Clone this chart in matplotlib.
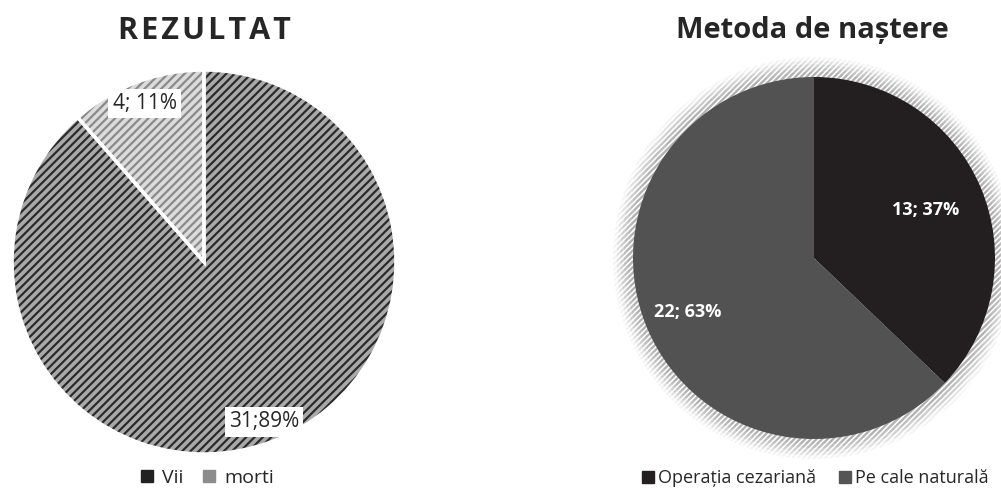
#!/usr/bin/env python3
# -*- coding: utf-8 -*-

"""
plot.py
Două diagrame circulare: rezultat (vii / morți) și metoda de naștere.
"""

import matplotlib
matplotlib.use("Agg")
import matplotlib.pyplot as plt
import numpy as np
from matplotlib.lines import Line2D
from matplotlib.patches import Circle

# Date
rezultat_labels = ["Vii", "morti"]
rezultat_values = [31, 4]
rezultat_pct = [89, 11]

metoda_labels = ["Operația cezariană", "Pe cale naturală"]
metoda_values = [13, 22]
metoda_pct = [37, 63]

plt.rcParams["font.family"] = ["Open Sans", "DejaVu Sans"]
plt.rcParams["hatch.linewidth"] = 1.6

W, H = 1001, 495
fig = plt.figure(figsize=(W / 100, H / 100), dpi=100)


def px_axes(cx, cy, r, pad=1.0):
    # axa pătrată centrată în (cx, cy) pixeli; raza 1 a plăcintei = r pixeli
    rb = r * pad
    ax = fig.add_axes([(cx - rb) / W, (H - cy - rb) / H, 2 * rb / W, 2 * rb / H])
    ax.set_xlim(-pad, pad)
    ax.set_ylim(-pad, pad)
    ax.set_aspect("equal")
    ax.axis("off")
    return ax


def place_labels(ax, wedges, texts, dists):
    for w, t, d in zip(wedges, texts, dists):
        ang = np.deg2rad((w.theta1 + w.theta2) / 2)
        t.set_position((d * np.cos(ang), d * np.sin(ang)))


# --- REZULTAT ---
ax1 = px_axes(204, 262, 192, pad=1.02)
w_hatch, _ = ax1.pie(
    rezultat_values, startangle=90, counterclock=False, radius=1,
    colors=["#a9a9a9", "#dcdcdc"],
    wedgeprops=dict(linewidth=0),
)
for w, hc in zip(w_hatch, ["#2b2b2b", "#8a8a8a"]):
    w.set_hatch("////")
    w.set_edgecolor(hc)
    w.set_linewidth(0)
w_edge, _ = ax1.pie(
    rezultat_values, startangle=90, counterclock=False, radius=1,
    colors=["none", "none"],
    wedgeprops=dict(edgecolor="white", linewidth=2.5),
)
ax1.set_xlim(-1.02, 1.02)
ax1.set_ylim(-1.02, 1.02)
labels1 = [f"{v}; {p}%" if v < 10 else f"{v};{p}%" for v, p in zip(rezultat_values, rezultat_pct)]
texts1 = [ax1.text(0, 0, s, ha="center", va="center", fontsize=15, color="#262626",
                   bbox=dict(facecolor="white", edgecolor="none", pad=3))
          for s in labels1]
place_labels(ax1, w_edge, texts1, [0.89, 0.88])

fig.text(204 / W, 1 - 31 / H, "\u200a".join("REZULTAT"), ha="center", va="center",
         fontsize=22, fontweight="bold", color="#262626")

leg1 = [Line2D([], [], marker="s", linestyle="none", markersize=8, color=c)
        for c in ["#222222", "#8c8c8c"]]
fig.legend(leg1, rezultat_labels, loc="center", bbox_to_anchor=(207 / W, 1 - 478 / H),
           ncol=2, frameon=False, fontsize=14, handlelength=0.7, handletextpad=0.4,
           columnspacing=1.0, labelcolor="#262626")

# --- Metoda de naștere ---
ax2 = px_axes(814, 258, 181, pad=1.13)
# umbra (glow) din jurul cercului
for r, a in zip([1.11, 1.09, 1.07, 1.05, 1.03], [0.1, 0.18, 0.28, 0.4, 0.55]):
    ax2.add_patch(Circle((0, 0), r, facecolor="white", edgecolor="#8a8a8a",
                         hatch="//////", linewidth=0, alpha=a, zorder=0))
w2, _ = ax2.pie(
    metoda_values, startangle=90, counterclock=False, radius=1,
    colors=["#231f20", "#525252"],
    wedgeprops=dict(linewidth=0),
)
ax2.set_xlim(-1.13, 1.13)
ax2.set_ylim(-1.13, 1.13)
labels2 = [f"{v}; {p}%" for v, p in zip(metoda_values, metoda_pct)]
texts2 = [ax2.text(0, 0, s, ha="center", va="center", fontsize=13, color="white",
                   fontweight="bold") for s in labels2]
place_labels(ax2, w2, texts2, [0.67, 0.76])

fig.text(812 / W, 1 - 31 / H, "Metoda de naștere", ha="center", va="center",
         fontsize=21, fontweight="bold", color="#262626")

leg2 = [Line2D([], [], marker="s", linestyle="none", markersize=9, color=c)
        for c in ["#231f20", "#555555"]]
fig.legend(leg2, metoda_labels, loc="center", bbox_to_anchor=(816 / W, 1 - 478 / H),
           ncol=2, frameon=False, fontsize=13, handlelength=0.6, handletextpad=0.25,
           columnspacing=1.3, labelcolor="#262626")

fig.savefig("out.png", dpi=100, facecolor="white")
